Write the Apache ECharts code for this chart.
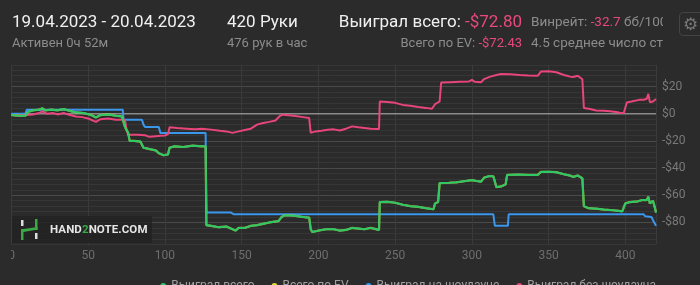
<!DOCTYPE html>
<html><head><meta charset="utf-8">
<script src="https://cdn.jsdelivr.net/npm/echarts@6/dist/echarts.min.js"></script>
<style>
html,body{margin:0;padding:0;background:#2b2b2b;width:700px;height:285px;overflow:hidden;font-family:Roboto,"Noto Sans",sans-serif;}
#chart{position:absolute;left:11px;top:0;width:689px;height:285px;}
.t{position:absolute;white-space:nowrap;}
.big{font-size:17px;color:#f0f0f0;line-height:20px;}
.small{font-size:13px;color:#8c8c8c;line-height:16px;}
.pk{color:#e8497c;}
#wm{position:absolute;left:12px;top:216px;width:140px;height:27px;background:rgba(34,34,34,0.85);}
#wmtext{position:absolute;left:38px;top:6px;font-size:11.5px;font-weight:bold;color:#e6e6e6;letter-spacing:0.1px;}
#gear{position:absolute;left:679px;top:12px;width:30px;height:24px;border:1px solid #444;border-radius:4px;box-sizing:border-box;}
#gear span{position:absolute;left:3px;top:1px;font-size:17px;color:#777;font-family:"DejaVu Sans";}
</style></head><body>
<div id="chart"></div>
<div class="t big" style="left:12px;top:11px;">19.04.2023 - 20.04.2023</div>
<div class="t small" style="left:12px;top:35px;">Активен 0ч 52м</div>
<div class="t big" style="left:227px;top:11px;">420 Руки</div>
<div class="t small" style="left:227px;top:35px;">476 рук в час</div>
<div class="t big" style="right:178px;top:11px;">Выиграл всего: <span class="pk">-$72.80</span></div>
<div class="t small" style="right:178px;top:35px;">Всего по EV: <span class="pk">-$72.43</span></div>
<div class="t small" style="left:531px;top:13px;width:132px;overflow:hidden;font-size:13.5px;">Винрейт: <span class="pk">-32.7</span> бб/100</div>
<div class="t small" style="left:531px;top:34px;width:132px;overflow:hidden;font-size:13.5px;">4.5 среднее число стоп</div>
<div id="gear"><span>⚙</span></div>
<div id="wm">
<svg width="30" height="27" style="position:absolute;left:6px;top:0">
<rect x="3" y="4" width="2.5" height="6" fill="#ddd"/>
<rect x="3" y="13" width="2.5" height="11" fill="#3aa845"/>
<rect x="17" y="3" width="2.5" height="11" fill="#3aa845"/>
<rect x="17" y="17" width="2.5" height="6" fill="#ddd"/>
<polygon points="3,13 5.5,13 19.5,11 19.5,14 17,14 5.5,16 3,16" fill="#3aa845"/>
</svg>
<div id="wmtext">HAND<span style="color:#3aa845">2</span>NOTE.COM</div>
</div>
<script>
// ---- data ----
const totalHands = [0,5,9,11,14,18,20,22,26,30,34,38,42,47,52,55,58,63,68,72,73,74,76,77,80,84,86,90,94,96,99,102,103,106,112,118,124,126.5,127,130,135,140,143,146,148,152,156,160,164,168,174,176,178,184,190,194,195,196,200,205,210,214,218,222,226,230,234,239.5,240,245,250,255,260,265,270,275,276,278,279,285,290,296,300,303,306,308,311,314,316,319,322,323,330,337,343,345,350,355,360,364,366,369,372,373,376,382,386,392,396,398,400,403,408,411,414,415,416,417,418,419,420];
const totalValues = [-1,-1.5,-1.5,1.5,2.5,3,4,2.5,3,2.5,3.5,2,1,0.5,-1,-2.7,-1,-0.5,-1.5,-2,-6,-10,-14,-20,-20,-20.5,-25,-26,-27,-29,-30.5,-30,-25,-24,-24.5,-23.5,-24,-24,-82,-82.5,-83.5,-83,-84.5,-86,-84,-84,-82.5,-82,-81,-80,-79,-76,-74.7,-75,-76,-76.5,-85,-87,-86,-85,-85,-86,-85.5,-84,-84.5,-85,-84,-85.5,-65,-64.8,-65.5,-67,-68,-68.5,-69.5,-70.3,-66,-65,-51,-50.8,-50.5,-49.5,-48.8,-49.5,-50,-47,-46,-46,-54,-53.5,-52,-45,-44.7,-45,-45,-42.8,-42.7,-43,-44.5,-45.5,-46.5,-45.5,-47.5,-68,-69.5,-70,-70.5,-71,-71.5,-71.8,-66,-65,-64.5,-63.5,-63.5,-61,-66,-67,-64,-68,-72.8];
const evValues = [-1,-1.5,-1.5,1.5,2.5,3,4,2.5,3,2.5,3.5,2,1,0.5,-1,-2.7,-1,-0.5,-1.5,-2,-6,-10,-14,-20,-20,-20.5,-25,-26,-27,-29,-30.5,-30,-25,-24,-24.5,-23.5,-24,-24,-82,-82.5,-83.5,-83,-84.5,-86,-84,-84,-82.5,-82,-81,-80,-79,-76,-74.7,-75,-76,-76.5,-85,-87,-86,-85,-85,-86,-85.5,-84,-84.5,-85,-84,-85.5,-65,-64.8,-65.5,-67,-68,-68.5,-69.5,-70.3,-66,-65,-51,-50.8,-50.5,-49.5,-48.8,-49.5,-50,-47,-46,-46,-54,-53.5,-52,-45,-44.7,-45,-45,-42.8,-42.7,-43,-44.5,-45.5,-46.5,-45.5,-47.5,-68,-69.5,-70,-70.5,-71,-71.5,-71.8,-66,-65,-64.5,-63.5,-63.5,-61,-66,-67,-64,-68,-72.43];
const sdHands = [0,9,10,72.5,73,85,86,87,96,97,126.5,127,143,144,145,314,315,323.5,324,412,413,417,420];
const sdValues = [0,0,3,3,-4.4,-4.4,-8,-9.8,-9.8,-14.1,-14.1,-72.7,-72.7,-72,-74,-74,-82.5,-82.5,-74,-74,-75.5,-76,-82.5];
const nsdHands = [0,5,10,14,18,20,23,27,30,34,38,42,46,50,55,58,63,68,72,74,75,76,82,87,90,94,97,100,102,103,108,114,120,124,130,136,140,144,148,152,156,160,164,168,172,175,177,184,190,194,195,198,202,206,210,214,218,222,226,230,234,239.5,240,245,250,255,260,265,270,274,276,277,279,280,286,292,298,300,302,306,308,312,316,319,325,331,337,343,345,350,355,360,362,364,366,369,372,373,377,381,386,390,394,397,399,401,404,409,412,414,415,416,417,418,420];
const nsdValues = [-1,-1.2,-1,-0.5,0.5,1.7,0,0.5,-0.5,0.5,-1,-2,-2.5,-3.5,-6,-4,-3.5,-4.5,-4.4,-4.5,-12,-15.4,-15.5,-15.8,-17,-16.5,-16.2,-16,-15,-10,-10.5,-11,-11.5,-11,-11.7,-12.5,-13,-14.1,-13,-12,-11,-8,-6.8,-6,-5,-1.5,-0.7,-1.5,-2.5,-3.2,-14.1,-13,-12.5,-11.8,-11.5,-12.4,-11,-9.3,-10,-10.5,-11,-11.2,9,8.7,8,6.5,5.8,5,4.3,3.7,7,8.3,9,22.9,23.2,23.5,23.7,24.9,23.5,23.2,25.5,27.3,28.5,29.3,29,28.5,28.2,28,31,31.2,30.5,28.5,28,27.3,27,28,25.4,4.2,3.5,2.4,2.2,1.8,1.2,0.5,0.6,8.3,9,10.2,10.3,11,14.6,8.5,7.3,9,10.8];
const xTicks = [0,50,100,150,200,250,300,350,400];
const yLabels = [-80,-60,-40,-20,0,20];
const seriesNames = ['Выиграл всего','Всего по EV','Выиграл на шоудауне','Выиграл без шоудауна'];

const pairs = (h, v) => h.map((x, i) => [x, v[i]]);
const chart = echarts.init(document.getElementById('chart'));
const minor = '#363636', major = '#4a4a4a';
chart.setOption({
  backgroundColor: 'transparent',
  animation: false,
  grid: {left: 0.5, right: 44, top: 64.8, bottom: 40.8, containLabel: false, outerBoundsMode: 'none'},
  legend: {
    data: seriesNames, right: 44, top: 280, padding: 0, icon: 'circle', itemWidth: 6, itemHeight: 6, itemGap: 17,
    textStyle: {color: '#a0a0a0', fontSize: 12, fontFamily: 'Roboto'}
  },
  xAxis: {
    type: 'value', min: 0, max: 420, interval: 50,
    axisLine: {show: false}, axisTick: {show: false},
    axisLabel: {color: '#6e6e6e', fontSize: 12, fontFamily: 'Roboto', margin: 6, showMaxLabel: false,
      formatter: v => xTicks.includes(v) ? String(v) : ''},
    splitLine: {show: true, lineStyle: {color: '#3a3a3a', width: 1}}
  },
  yAxis: {
    type: 'value', position: 'right', min: -96, max: 36, interval: 4,
    axisLine: {show: false}, axisTick: {show: false},
    axisLabel: {color: '#7a7a7a', fontSize: 12, fontFamily: 'Roboto', margin: 6,
      formatter: v => yLabels.includes(v) ? (v < 0 ? '-$' + (-v) : '$' + v) : ''},
    splitLine: {show: true, lineStyle: {color: [minor, minor, minor, minor, major], width: 1}}
  },
  series: [
    {name: 'zero', type: 'line', data: [[0, 0], [420, 0]], symbol: 'none', silent: true, z: 1,
      lineStyle: {color: '#8a8a8a', width: 1.5}},
    {name: seriesNames[2], type: 'line', data: pairs(sdHands, sdValues), showSymbol: false, symbol: 'circle',
      color: '#3a97ec', lineStyle: {width: 2}, z: 2},
    {name: seriesNames[3], type: 'line', data: pairs(nsdHands, nsdValues), showSymbol: false, symbol: 'circle',
      color: '#e8457a', lineStyle: {width: 2}, z: 3},
    {name: seriesNames[1], type: 'line', data: pairs(totalHands, evValues), showSymbol: false, symbol: 'circle',
      color: '#e3dc3c', lineStyle: {width: 2.2, opacity: 0.7}, z: 4},
    {name: seriesNames[0], type: 'line', data: pairs(totalHands, totalValues), showSymbol: false, symbol: 'circle',
      color: '#2ec865', lineStyle: {width: 2}, z: 5}
  ]
});
</script>
</body></html>
